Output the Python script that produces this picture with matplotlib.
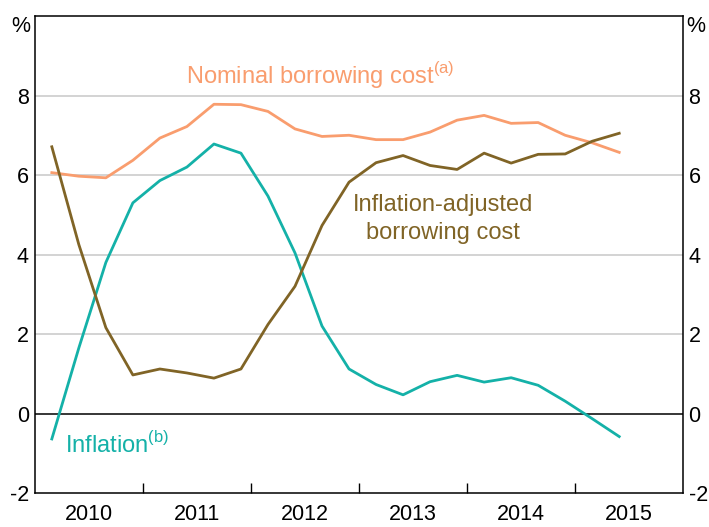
import matplotlib.pyplot as plt
import numpy as np

plt.rcParams['font.family'] = ['Liberation Sans', 'DejaVu Sans']

# quarterly, 2010 Q1 .. 2015 Q2
n_quarters = 22
start = 2010.16

nominal = [6.06, 5.97, 5.93, 6.37, 6.93, 7.22, 7.78, 7.77, 7.60, 7.16, 6.97,
           7.00, 6.89, 6.89, 7.08, 7.38, 7.50, 7.30, 7.32, 7.00, 6.81, 6.57]
inflation = [-0.64, 1.65, 3.80, 5.30, 5.86, 6.20, 6.78, 6.55, 5.47, 4.04, 2.20,
             1.12, 0.73, 0.47, 0.80, 0.96, 0.79, 0.90, 0.71, 0.31, -0.13, -0.58]
real = [6.71, 4.25, 2.16, 0.97, 1.12, 1.02, 0.89, 1.12, 2.24, 3.20, 4.73,
        5.82, 6.31, 6.49, 6.24, 6.14, 6.55, 6.30, 6.52, 6.53, 6.85, 7.05]
years = [2010, 2011, 2012, 2013, 2014, 2015]

c_nom = '#F99D6E'
c_inf = '#14B1A8'
c_real = '#806426'
fs = 15.5

x = start + 0.25 * np.arange(n_quarters)

fig = plt.figure(figsize=(7.09, 5.27), dpi=100)
ax = fig.add_axes([0.0487, 0.0645, 0.9146, 0.9051])

ax.axhline(0, color='black', lw=1.1, zorder=2)
for v in [2, 4, 6, 8]:
    ax.axhline(v, color='#C8C8C8', lw=1.1, zorder=1)

ax.plot(x, nominal, color=c_nom, lw=2.0, zorder=3)
ax.plot(x, inflation, color=c_inf, lw=2.0, zorder=3)
ax.plot(x, real, color=c_real, lw=2.0, zorder=3)

ax.set_xlim(2010, 2016)
ax.set_ylim(-2, 10)

ax.set_xticks(range(2011, 2016))
ax.set_xticklabels([])
ax.set_xticks([y + 0.5 for y in years], minor=True)
ax.set_xticklabels([str(y) for y in years], minor=True)
ax.tick_params(axis='x', which='major', direction='in', length=7, width=1)
ax.tick_params(axis='x', which='minor', length=0, pad=8, labelsize=fs)

ax.set_yticks([-2, 0, 2, 4, 6, 8])
ax.set_yticklabels(['-2', '0', '2', '4', '6', '8'])
ax.tick_params(axis='y', length=0, labelsize=fs, pad=4,
               left=True, right=True, labelleft=True, labelright=True)

for s in ax.spines.values():
    s.set_linewidth(1.1)

fig.text(0.0487 - 0.006, 0.950, '%', ha='right', va='center', fontsize=fs)
fig.text(0.9633 + 0.004, 0.950, '%', ha='left', va='center', fontsize=fs)

ax.text(2011.405, 8.29, 'Nominal borrowing cost$^{\\mathregular{(a)}}$', color=c_nom,
        fontsize=17, ha='left', va='baseline')
ax.text(2013.776, 5.09, 'Inflation-adjusted', color=c_real,
        fontsize=17, ha='center', va='baseline')
ax.text(2013.776, 4.38, 'borrowing cost', color=c_real,
        fontsize=17, ha='center', va='baseline')
ax.text(2010.285, -0.99, 'Inflation$^{\\mathregular{(b)}}$', color=c_inf,
        fontsize=17, ha='left', va='baseline')

fig.savefig('out.png', dpi=100)
